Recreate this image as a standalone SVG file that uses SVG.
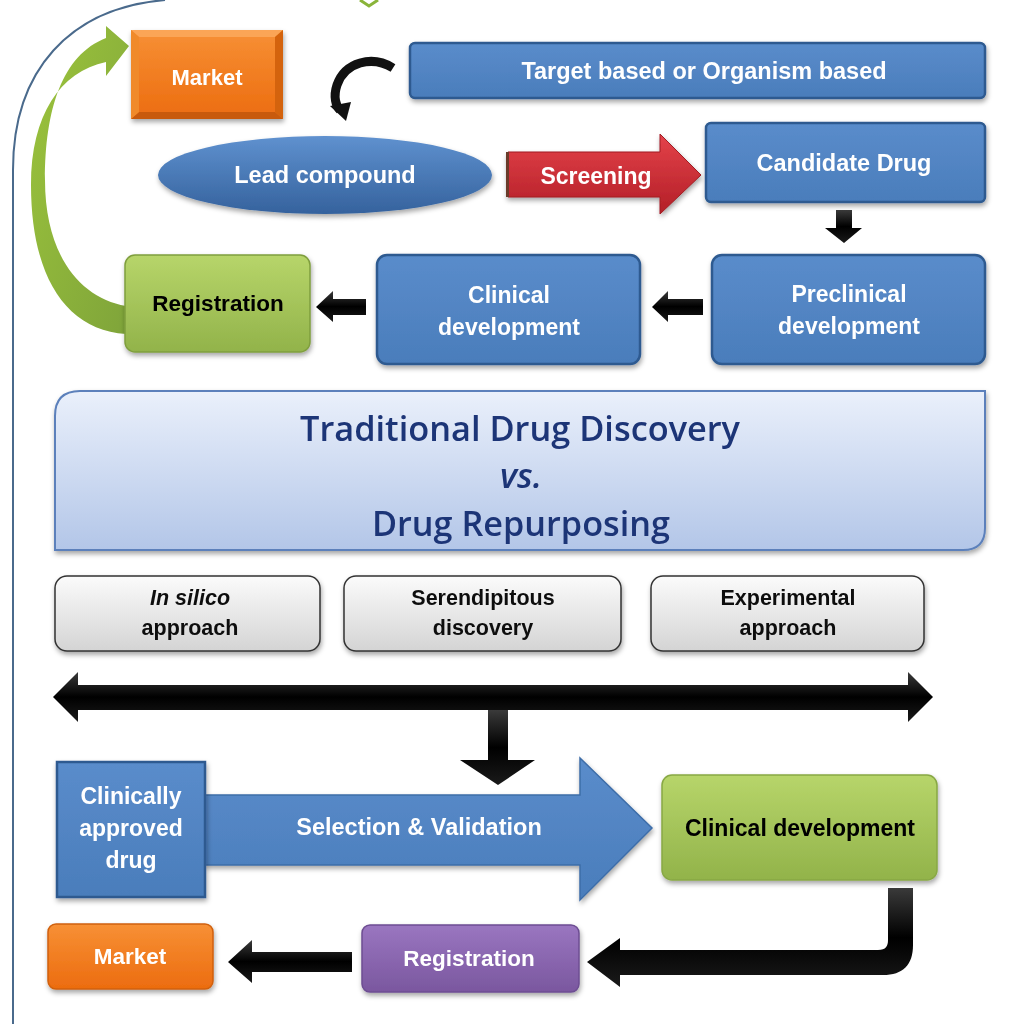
<svg xmlns="http://www.w3.org/2000/svg" width="1024" height="1024" viewBox="0 0 1024 1024">
<defs>
<linearGradient id="gBlue" x1="0" y1="0" x2="0" y2="1"><stop offset="0" stop-color="#5a8ccb"/><stop offset="1" stop-color="#4a7dbb"/></linearGradient>
<linearGradient id="gEll" x1="0" y1="0" x2="0" y2="1"><stop offset="0" stop-color="#5f91cf"/><stop offset="1" stop-color="#35629d"/></linearGradient>
<linearGradient id="gOrange" x1="0" y1="0" x2="0" y2="1"><stop offset="0" stop-color="#f79035"/><stop offset="1" stop-color="#ec6c0f"/></linearGradient>
<linearGradient id="gGreen" x1="0" y1="0" x2="0" y2="1"><stop offset="0" stop-color="#b7d56a"/><stop offset="1" stop-color="#92b34a"/></linearGradient>
<linearGradient id="gGreenArrow" x1="0" y1="0" x2="1" y2="1"><stop offset="0" stop-color="#9cc43c"/><stop offset="1" stop-color="#7fa43a"/></linearGradient>
<linearGradient id="gPurple" x1="0" y1="0" x2="0" y2="1"><stop offset="0" stop-color="#9a76c0"/><stop offset="1" stop-color="#7a579f"/></linearGradient>
<linearGradient id="gRed" x1="0" y1="0" x2="0" y2="1"><stop offset="0" stop-color="#e4424a"/><stop offset="1" stop-color="#b31f27"/></linearGradient>
<linearGradient id="gTitle" x1="0" y1="0" x2="0" y2="1"><stop offset="0" stop-color="#eaf0fb"/><stop offset="1" stop-color="#b3c6e8"/></linearGradient>
<linearGradient id="gGray" x1="0" y1="0" x2="0" y2="1"><stop offset="0" stop-color="#fbfbfb"/><stop offset="1" stop-color="#d4d4d4"/></linearGradient>
<linearGradient id="gBlack" x1="0" y1="0" x2="0" y2="1"><stop offset="0" stop-color="#3a3a3a"/><stop offset="0.5" stop-color="#000"/><stop offset="1" stop-color="#1a1a1a"/></linearGradient>
<filter id="sh" x="-10%" y="-10%" width="130%" height="140%"><feDropShadow dx="1" dy="3" stdDeviation="2.5" flood-color="#000" flood-opacity="0.35"/></filter>
<style>
.t{font-family:"Liberation Sans",Arial,sans-serif;font-weight:bold;text-anchor:middle;dominant-baseline:central}
.w{fill:#fff}
.k{fill:#000}
.g{font-family:"Liberation Sans",Arial,sans-serif;font-weight:bold;text-anchor:middle;dominant-baseline:central;fill:#111;font-size:21.5px}
.blue{fill:url(#gBlue);stroke:#2d5a90;stroke-width:2.5}
.title{font-family:"Open Sans","Liberation Sans",sans-serif;font-weight:600;fill:#1f3577;text-anchor:middle;dominant-baseline:central;font-size:34px}
</style>
</defs>
<rect width="1024" height="1024" fill="#fff"/>

<!-- outer frame line -->
<path d="M165 0 C70 8 13 70 13 170 L13 1024" fill="none" stroke="#4a6a8c" stroke-width="2"/>
<path d="M360 0 L369 6 L378 0" fill="none" stroke="#8ab43a" stroke-width="3"/>

<g id="connectors">
  <path d="M129 46 L106 26 L106 38 C62 55 45 110 45 180 C45 255 80 298 126 306 L126 334 C65 330 31 275 31 185 C31 115 60 72 106 62 L106 76 Z" fill="url(#gGreenArrow)"/>
  <path d="M393 68 C372 55 345 62 337 85 C333 97 336 106 340 110" fill="none" stroke="#111" stroke-width="9"/>
  <path d="M330 106 L346 121 L351 102 Z" fill="#111"/>
  <g id="screening" filter="url(#sh)">
    <path d="M508 152 L660 152 L660 134 L701 175 L660 214 L660 197 L508 197 Z" fill="url(#gRed)" stroke="#a01c22" stroke-width="1"/>
    <rect x="506" y="152" width="3" height="45" fill="#6b3a2a"/>
    <text class="t w" x="596" y="176" font-size="23">Screening</text>
  </g>
  <path d="M836 210 L852 210 L852 228 L862 228 L844 243 L825 228 L836 228 Z" fill="url(#gBlack)"/>
  <path d="M703 299 L668 299 L668 291 L652 307 L668 322 L668 315 L703 315 Z" fill="url(#gBlack)"/>
  <path d="M366 299 L333 299 L333 291 L316 307 L333 322 L333 315 L366 315 Z" fill="url(#gBlack)"/>
  <path d="M53 697 L78 672 L78 685 L908 685 L908 672 L933 697 L908 722 L908 710 L78 710 L78 722 Z" fill="url(#gBlack)"/>
  <path d="M488 710 L508 710 L508 760 L535 760 L498 785 L460 760 L488 760 Z" fill="url(#gBlack)"/>
  <path d="M888 888 L913 888 L913 945 C913 965 903 975 883 975 L620 975 L620 987 L587 962 L620 938 L620 950 L878 950 C886 950 888 946 888 940 Z" fill="url(#gBlack)"/>
  <path d="M352 952 L252 952 L252 940 L228 962 L252 983 L252 972 L352 972 Z" fill="url(#gBlack)"/>
</g>

<g id="market-top" filter="url(#sh)">
  <rect x="131" y="30" width="152" height="89" fill="url(#gOrange)"/>
  <path d="M131 30 L283 30 L275 37 L139 37 Z" fill="#fba556"/>
  <path d="M131 119 L283 119 L275 112 L139 112 Z" fill="#c85a0c"/>
  <path d="M283 30 L283 119 L275 112 L275 37 Z" fill="#d4640e"/>
  <path d="M131 30 L131 119 L139 112 L139 37 Z" fill="#f08a2c"/>
  <text class="t w" x="207" y="77" font-size="22">Market</text>
</g>

<g id="target" filter="url(#sh)">
  <rect class="blue" x="410" y="43" width="575" height="55" rx="5"/>
  <text class="t w" x="704" y="71" font-size="23.5">Target based or Organism based</text>
</g>

<g id="lead" filter="url(#sh)">
  <ellipse cx="325" cy="175" rx="167" ry="39" fill="url(#gEll)"/>
  <text class="t w" x="325" y="175" font-size="23.5">Lead compound</text>
</g>

<g id="candidate" filter="url(#sh)">
  <rect class="blue" x="706" y="123" width="279" height="79" rx="5"/>
  <text class="t w" x="844" y="163" font-size="23.5">Candidate Drug</text>
</g>

<g id="preclinical" filter="url(#sh)">
  <rect class="blue" x="712" y="255" width="273" height="109" rx="10"/>
  <text class="t w" x="849" y="294" font-size="23">Preclinical</text>
  <text class="t w" x="849" y="326" font-size="23">development</text>
</g>

<g id="clinical" filter="url(#sh)">
  <rect class="blue" x="377" y="255" width="263" height="109" rx="10"/>
  <text class="t w" x="509" y="295" font-size="23">Clinical</text>
  <text class="t w" x="509" y="327" font-size="23">development</text>
</g>

<g id="registration-top" filter="url(#sh)">
  <rect x="125" y="255" width="185" height="97" rx="10" fill="url(#gGreen)" stroke="#7f9e3e" stroke-width="1.5"/>
  <text class="t k" x="218" y="303" font-size="22.5">Registration</text>
</g>

<g id="title" filter="url(#sh)">
  <path d="M80 391 L985 391 L985 528 Q985 550 963 550 L55 550 L55 416 Q55 391 80 391 Z" fill="url(#gTitle)" stroke="#5b80bb" stroke-width="2"/>
  <text class="title" x="520" y="428" textLength="440" lengthAdjust="spacingAndGlyphs">Traditional Drug Discovery</text>
  <text class="title" x="521" y="475" font-style="italic" textLength="42" lengthAdjust="spacingAndGlyphs">vs.</text>
  <text class="title" x="521" y="523" textLength="298" lengthAdjust="spacingAndGlyphs">Drug Repurposing</text>
</g>

<g id="insilico" filter="url(#sh)">
  <rect x="55" y="576" width="265" height="75" rx="12" fill="url(#gGray)" stroke="#333" stroke-width="1.5"/>
  <text class="g" x="190" y="598" font-style="italic">In silico</text>
  <text class="g" x="190" y="628">approach</text>
</g>
<g id="serendipitous" filter="url(#sh)">
  <rect x="344" y="576" width="277" height="75" rx="12" fill="url(#gGray)" stroke="#333" stroke-width="1.5"/>
  <text class="g" x="483" y="598">Serendipitous</text>
  <text class="g" x="483" y="628">discovery</text>
</g>
<g id="experimental" filter="url(#sh)">
  <rect x="651" y="576" width="273" height="75" rx="12" fill="url(#gGray)" stroke="#333" stroke-width="1.5"/>
  <text class="g" x="788" y="598">Experimental</text>
  <text class="g" x="788" y="628">approach</text>
</g>

<g id="selection" filter="url(#sh)">
  <path d="M205 795 L580 795 L580 758 L652 828 L580 900 L580 865 L205 865 Z" fill="url(#gBlue)" stroke="#3d6da8" stroke-width="1.5"/>
  <text class="t w" x="419" y="827" font-size="23.5">Selection &amp; Validation</text>
</g>

<g id="approved" filter="url(#sh)">
  <rect x="57" y="762" width="148" height="135" fill="url(#gBlue)" stroke="#2d5a90" stroke-width="2.5"/>
  <text class="t w" x="131" y="796" font-size="23">Clinically</text>
  <text class="t w" x="131" y="828" font-size="23">approved</text>
  <text class="t w" x="131" y="860" font-size="23">drug</text>
</g>

<g id="clinical-dev" filter="url(#sh)">
  <rect x="662" y="775" width="275" height="105" rx="10" fill="url(#gGreen)" stroke="#88a844" stroke-width="1.5"/>
  <text class="t k" x="800" y="828" font-size="23">Clinical development</text>
</g>

<g id="registration-bottom" filter="url(#sh)">
  <rect x="362" y="925" width="217" height="67" rx="8" fill="url(#gPurple)" stroke="#6d4d92" stroke-width="1.5"/>
  <text class="t w" x="469" y="958" font-size="22.5">Registration</text>
</g>

<g id="market-bottom" filter="url(#sh)">
  <rect x="48" y="924" width="165" height="65" rx="8" fill="url(#gOrange)" stroke="#d0600d" stroke-width="1.5"/>
  <text class="t w" x="130" y="956" font-size="22.5">Market</text>
</g>
</svg>
